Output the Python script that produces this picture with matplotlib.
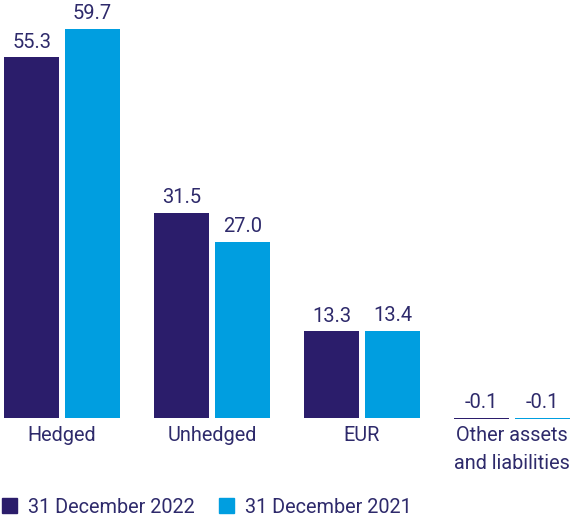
import numpy as np
import matplotlib.pyplot as plt
from matplotlib.patches import Patch

# datos del grafico
categorias = ['Hedged', 'Unhedged', 'EUR', 'Other assets\nand liabilities']
serie_2022 = [55.3, 31.5, 13.3, -0.1]
serie_2021 = [59.7, 27.0, 13.4, -0.1]
etiquetas = ['31 December 2022', '31 December 2021']

navy = '#2b1d6b'
cian = '#009ee0'
texto = '#2e2a6b'

plt.rcParams['font.family'] = ['Roboto', 'DejaVu Sans']

fig = plt.figure(figsize=(5.74, 5.17), dpi=100)
ax = fig.add_axes([0, 77 / 517, 1, 440 / 517])

x = np.arange(len(categorias))
ancho = 0.367
desp = 0.203

b1 = ax.bar(x - desp, serie_2022, ancho, color=navy)
b2 = ax.bar(x + desp, serie_2021, ancho, color=cian)

for barras, valores in [(b1, serie_2022), (b2, serie_2021)]:
    for r, v in zip(barras, valores):
        y = max(v, 0)
        ax.annotate(f'{v:.1f}', (r.get_x() + r.get_width() / 2, y),
                    xytext=(0, 4), textcoords='offset points',
                    ha='center', va='bottom', fontsize=14.5, color=texto)

ax.set_xlim(-62 / 150, (574 - 62) / 150)
ax.set_ylim(-(440 - 418) / 6.52, 418 / 6.52)
ax.axis('off')

for xi, c in zip(x, categorias):
    fig.text((62 + 150 * xi) / 574, 1 - 426 / 517, c, ha='center', va='top',
             fontsize=14.3, color=texto, linespacing=1.6)

handles = [Patch(color=navy), Patch(color=cian)]
fig.legend(handles, etiquetas, loc='lower left', bbox_to_anchor=(-0.02, -0.026),
           ncol=2, frameon=False, fontsize=14.3, labelcolor=texto,
           handlelength=0.75, handleheight=0.75, handletextpad=0.55,
           columnspacing=1.2, borderaxespad=0.3)

fig.savefig('out.png', dpi=100)
